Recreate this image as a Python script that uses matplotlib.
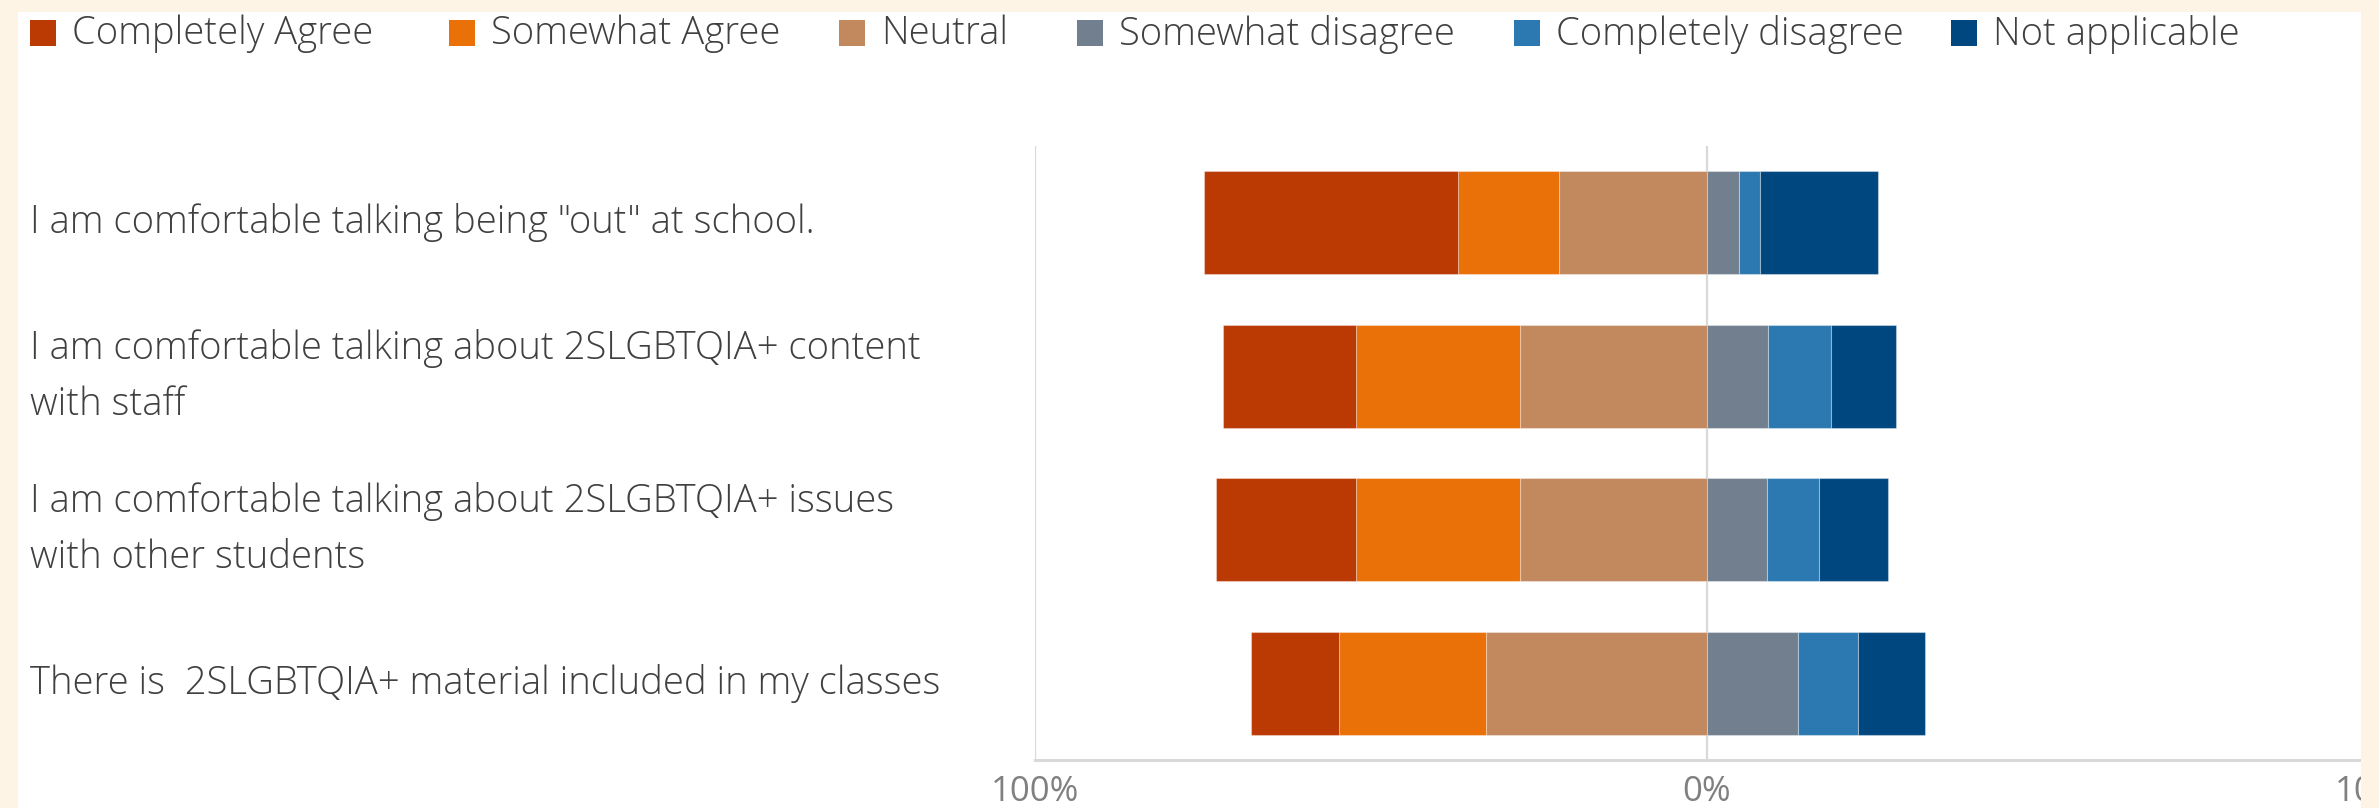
import matplotlib.pyplot as plt
import matplotlib.transforms as mtransforms
from matplotlib.patches import Rectangle

plt.rcParams['font.family'] = ['Open Sans', 'DejaVu Sans']

questions = [
    'I am comfortable talking being "out" at school.',
    'I am comfortable talking about 2SLGBTQIA+ content\nwith staff',
    'I am comfortable talking about 2SLGBTQIA+ issues\nwith other students',
    'There is  2SLGBTQIA+ material included in my classes',
]
completely_agree = [37.9, 19.8, 20.9, 13.0]
somewhat_agree = [15.0, 24.3, 24.3, 21.9]
neutral = [22.0, 27.9, 27.9, 32.9]
somewhat_disagree = [4.7, 9.1, 8.9, 13.5]
completely_disagree = [3.2, 9.3, 7.7, 8.9]
not_applicable = [17.5, 9.7, 10.3, 10.0]

names = ['Completely Agree', 'Somewhat Agree', 'Neutral',
         'Somewhat disagree', 'Completely disagree', 'Not applicable']
colors = ['#BB3902', '#EA7008', '#C2885E', '#717F8E', '#2B79B0', '#01477F']
xticks = [-100, 0, 100]
xticklabels = ['100%', '0%', '100%']

W, H = 2379, 808
fig = plt.figure(figsize=(W / 100, H / 100), dpi=100)
fig.patch.set_facecolor('white')

ax = fig.add_axes([1035 / W, 48 / H, 1 - 1035 / W, (760 - 146) / H])

y = list(range(len(questions)))
h = 0.67
edge = dict(edgecolor=(1, 1, 1, 0.35), linewidth=0.8)

# agree side grows to the left of zero, neutral closest to the centre
left_stack = [neutral, somewhat_agree, completely_agree]
left_cols = [colors[2], colors[1], colors[0]]
offset = [0.0] * len(y)
for vals, c in zip(left_stack, left_cols):
    ax.barh(y, vals, left=[-(o + v) for o, v in zip(offset, vals)],
            height=h, color=c, zorder=3, **edge)
    offset = [o + v for o, v in zip(offset, vals)]

right_stack = [somewhat_disagree, completely_disagree, not_applicable]
right_cols = [colors[3], colors[4], colors[5]]
offset = [0.0] * len(y)
for vals, c in zip(right_stack, right_cols):
    ax.barh(y, vals, left=offset, height=h, color=c, zorder=3, **edge)
    offset = [o + v for o, v in zip(offset, vals)]

ax.set_xlim(-100, 100)
ax.set_ylim(len(y) - 0.5, -0.5)
ax.set_xticks(xticks)
ax.set_xticklabels(xticklabels)
ax.tick_params(axis='x', length=0, pad=11, labelsize=25, labelcolor='#808080')
ax.set_yticks([])
for s in ['top', 'right', 'left']:
    ax.spines[s].set_visible(False)
ax.spines['bottom'].set_color('#d9d9d9')
ax.spines['bottom'].set_linewidth(2.2)
for xv in xticks:
    ax.axvline(xv, color='#d9d9d9', linewidth=1.6, zorder=1)

trans = mtransforms.blended_transform_factory(fig.transFigure, ax.transData)
for yi, q in zip(y, questions):
    ax.text(30 / W, yi, q, transform=trans, ha='left', va='center',
            fontsize=27.5, color='#404040', linespacing=1.6, fontweight='light')

# legend row across the top
leg_x = [30, 449, 839, 1077, 1514, 1951]
for lx, name, c in zip(leg_x, names, colors):
    fig.patches.append(Rectangle((lx / W, 1 - 46 / H), 26 / W, 26 / H,
                                 transform=fig.transFigure, facecolor=c,
                                 edgecolor='none', zorder=5))
    fig.text((lx + 42) / W, 1 - 34 / H, name, ha='left', va='center',
             fontsize=27.5, color='#404040', fontweight='light', zorder=5)

# cream frame around the card
cream = '#FEF4E6'
for rx, ry, rw, rh in [(0, 0, 18, H), (2361, 0, W - 2361, H), (0, H - 12, W, 12)]:
    fig.patches.append(Rectangle((rx / W, ry / H), rw / W, rh / H,
                                 transform=fig.transFigure, facecolor=cream,
                                 edgecolor='none', zorder=10))

fig.savefig('out.png', dpi=100, facecolor=fig.get_facecolor())
